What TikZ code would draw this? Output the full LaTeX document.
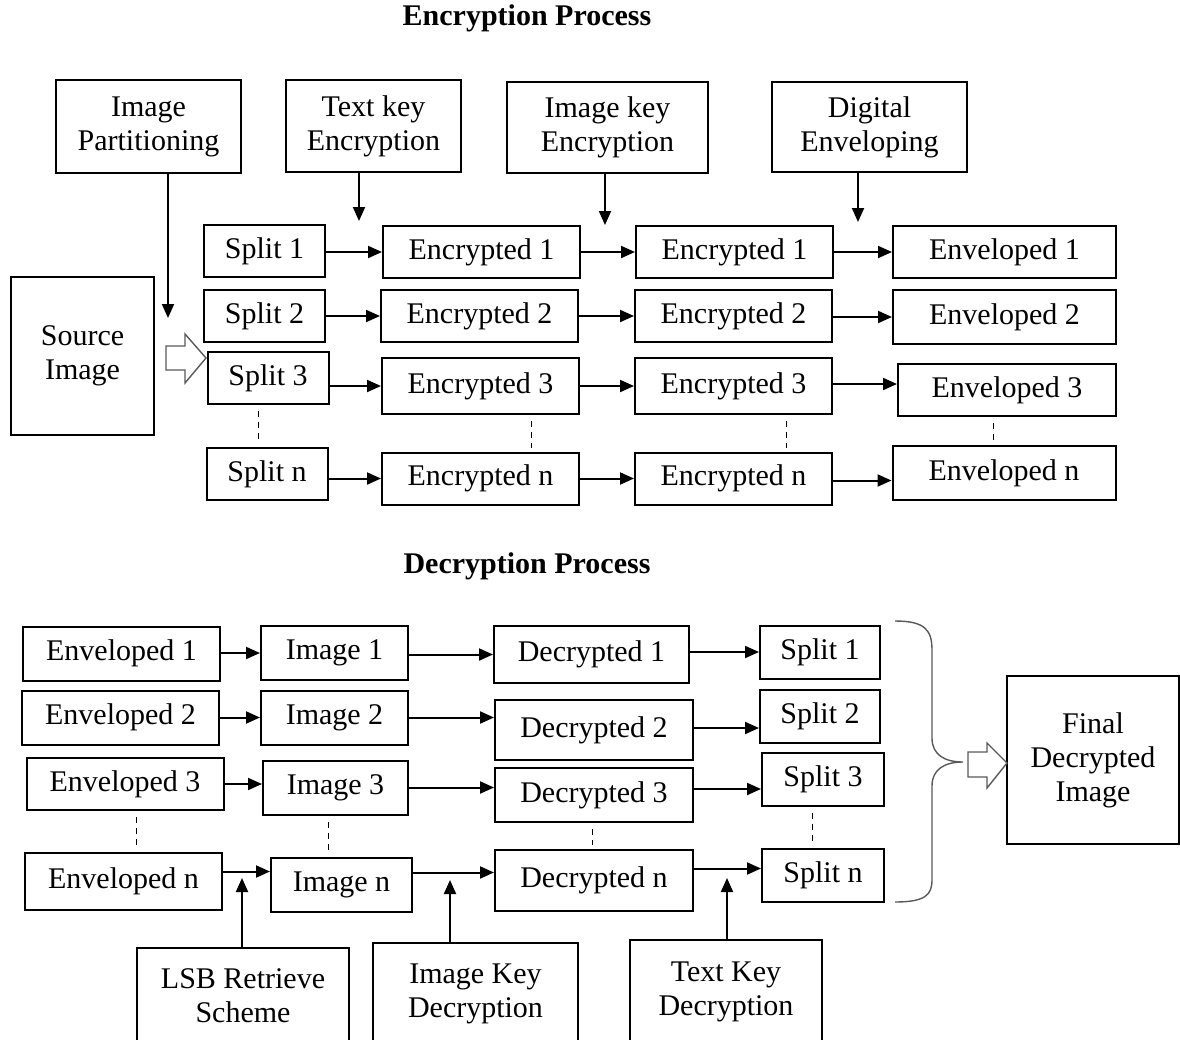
\documentclass[tikz,border=0pt]{standalone}
\usepackage{fontspec}
\setmainfont{Liberation Serif}
\usetikzlibrary{arrows.meta}

\begin{document}
\begin{tikzpicture}[x=0.5pt,y=-0.5pt,
  box/.style={draw,line width=1pt,inner sep=0pt,align=center,font=\fontsize{15}{17}\selectfont},
  split/.style={box,minimum width=60.5pt,minimum height=26pt},
  enc/.style={box,minimum width=98.5pt,minimum height=26pt},
  envd/.style={box,minimum width=111.5pt,minimum height=26pt},
  denv/.style={box,minimum width=98.5pt,minimum height=27pt},
  dimg/.style={box,minimum width=73.5pt,minimum height=27pt},
  ddec/.style={box,minimum width=97.5pt,minimum height=28.5pt},
  dsplit/.style={box,minimum width=60pt,minimum height=26.5pt},
  arr/.style={line width=1pt,-{Triangle[length=7pt,width=6pt]}},
  gap/.style={line width=0.5pt,dash pattern=on 3pt off 2.5pt,shorten <=3pt,shorten >=2pt},
  hollow/.style={draw=black!65,line width=0.7pt,fill=white},
  title/.style={font=\fontsize{15}{17}\selectfont\bfseries}]
  \clip (0,0) rectangle (1180,1040);

  % encryption
  \node[title] (enctitle) at (527,18) {Encryption Process};
  \node[box,minimum width=92.5pt,minimum height=46.5pt] (part) at (148.5,126.5) {Image\\Partitioning};
  \node[box,minimum width=87.5pt,minimum height=46pt] (tkey) at (373.5,126) {Text key\\Encryption};
  \node[box,minimum width=100.5pt,minimum height=45.5pt] (ikey) at (607.5,127.5) {Image key\\Encryption};
  \node[box,minimum width=97.5pt,minimum height=45pt] (denv) at (869.5,127) {Digital\\Enveloping};
  \node[box,minimum width=71.5pt,minimum height=79pt] (src) at (82.5,356) {Source\\Image};

  \node[split] (s1) at (264.5,251) {Split 1};
  \node[split] (s2) at (264.5,316) {Split 2};
  \node[split] (s3) at (268,378) {Split 3};
  \node[split] (sn) at (267,474) {Split n};
  \node[enc] (ea1) at (481.5,252) {Encrypted 1};
  \node[enc] (ea2) at (479.5,316) {Encrypted 2};
  \node[enc,minimum height=28pt] (ea3) at (480.5,386) {Encrypted 3};
  \node[enc] (ean) at (480.5,478.5) {Encrypted n};
  \node[enc] (eb1) at (734.5,252) {Encrypted 1};
  \node[enc] (eb2) at (733.5,316) {Encrypted 2};
  \node[enc,minimum height=28pt] (eb3) at (733.5,386) {Encrypted 3};
  \node[enc] (ebn) at (733.5,478.5) {Encrypted n};
  \node[envd] (v1) at (1004.5,252) {Enveloped 1};
  \node[envd,minimum height=27pt] (v2) at (1004.5,317) {Enveloped 2};
  \node[envd,minimum width=109pt] (v3) at (1007,390) {Enveloped 3};
  \node[envd,minimum height=27pt] (vn) at (1004,473) {Enveloped n};

  \coordinate (partin) at (168,318);
  \coordinate (tkeyin) at (359,221);
  \coordinate (ikeyin) at (605,225);
  \coordinate (denvin) at (858,222);
  \draw[arr] (part.south -| partin) -- (partin);
  \draw[arr] (tkey.south -| tkeyin) -- (tkeyin);
  \draw[arr] (ikey.south -| ikeyin) -- (ikeyin);
  \draw[arr] (denv.south -| denvin) -- (denvin);

  \draw[hollow] (166,346) -- (185,346) -- (185,334) -- (206,358) -- (185,383)
    -- (185,370) -- (166,370) -- cycle;

  \draw[arr] (s1.east |- ea1.west) -- (ea1.west);
  \draw[arr] (ea1.east |- eb1.west) -- (eb1.west);
  \draw[arr] (eb1.east |- v1.west) -- (v1.west);
  \draw[arr] (s2.east |- ea2.west) -- (ea2.west);
  \draw[arr] (ea2.east |- eb2.west) -- (eb2.west);
  \draw[arr] (eb2.east |- v2.west) -- (v2.west);
  \draw[arr] (s3.east |- ea3.west) -- (ea3.west);
  \draw[arr] (ea3.east |- eb3.west) -- (eb3.west);
  \draw[arr] ([yshift=1pt]eb3.east) -- ([yshift=1pt]eb3.east -| v3.west);
  \draw[arr] (sn.east |- ean.west) -- (ean.west);
  \draw[arr] (ean.east |- ebn.west) -- (ebn.west);
  \draw[arr] ([yshift=-1pt]ebn.east) -- ([yshift=-1pt]ebn.east -| vn.west);

  \draw[gap] (s3.south -| 258,0) -- (sn.north -| 258,0);
  \draw[gap] (ea3.south -| 531,0) -- (ean.north -| 531,0);
  \draw[gap] (eb3.south -| 786,0) -- (ebn.north -| 786,0);
  \draw[gap] (v3.south -| 993,0) -- (vn.north -| 993,0);

  % decryption
  \node[title] (dectitle) at (527,566) {Decryption Process};
  \node[denv] (d1) at (121.5,653.5) {Enveloped 1};
  \node[denv] (d2) at (120.5,717.5) {Enveloped 2};
  \node[denv,minimum height=26pt] (d3) at (125,784) {Enveloped 3};
  \node[denv,minimum height=28.5pt] (dn) at (123.5,881.5) {Enveloped n};
  \node[dimg] (i1) at (334.5,653) {Image 1};
  \node[dimg] (i2) at (334.5,717.5) {Image 2};
  \node[dimg,minimum width=72.5pt] (i3) at (335.5,787.5) {Image 3};
  \node[dimg,minimum width=70.5pt] (in) at (341.5,884.5) {Image n};
  \node[ddec] (c1) at (591.5,654.5) {Decrypted 1};
  \node[ddec,minimum width=99pt,minimum height=30pt] (c2) at (594,730) {Decrypted 2};
  \node[ddec,minimum width=99pt,minimum height=27pt] (c3) at (594,795) {Decrypted 3};
  \node[ddec,minimum width=99pt,minimum height=30.5pt] (cn) at (594,880.5) {Decrypted n};
  \node[dsplit] (p1) at (820,652) {Split 1};
  \node[dsplit] (p2) at (820,716) {Split 2};
  \node[dsplit,minimum width=61pt] (p3) at (823,779) {Split 3};
  \node[dsplit,minimum width=61pt] (pn) at (823,875) {Split n};
  \node[box,minimum width=86pt,minimum height=84pt] (final) at (1093,760) {Final\\Decrypted\\Image};

  \node[box,minimum width=106pt,minimum height=48pt] (lsb) at (243,996) {LSB Retrieve\\Scheme};
  \node[box,minimum width=102.5pt,minimum height=50.5pt] (ikd) at (475.5,993.5) {Image Key\\Decryption};
  \node[box,minimum width=96pt,minimum height=52pt] (tkd) at (726,992) {Text Key\\Decryption};

  \draw[arr] (d1.east |- i1.west) -- (i1.west);
  \draw[arr] (i1.east |- c1.west) -- (c1.west);
  \draw[arr] (c1.east |- p1.west) -- (p1.west);
  \draw[arr] (d2.east |- i2.west) -- (i2.west);
  \draw[arr] (i2.east) -- (i2.east -| c2.west);
  \draw[arr] ([yshift=1pt]c2.east) -- ([yshift=1pt]c2.east -| p2.west);
  \draw[arr] (d3.east) -- (d3.east -| i3.west);
  \draw[arr] (i3.east) -- (i3.east -| c3.west);
  \draw[arr] ([yshift=3pt]c3.east) -- ([yshift=3pt]c3.east -| p3.west);
  \draw[arr] ([yshift=5pt]dn.east) -- ([yshift=5pt]dn.east -| in.west);
  \draw[arr] ([yshift=6pt]in.east) -- ([yshift=6pt]in.east -| cn.west);
  \draw[arr] ([yshift=6pt]cn.east) -- ([yshift=6pt]cn.east -| pn.west);

  \draw[gap] (d3.south -| 136,0) -- (dn.north -| 136,0);
  \draw[gap] (i3.south -| 328,0) -- (in.north -| 328,0);
  \draw[gap] (c3.south -| 592,0) -- (cn.north -| 592,0);
  \draw[gap] (p3.south -| 812,0) -- (pn.north -| 812,0);

  \coordinate (lsbout) at (242,878);
  \coordinate (ikdout) at (450,880);
  \coordinate (tkdout) at (727,878);
  \draw[arr] (lsb.north -| lsbout) -- (lsbout);
  \draw[arr] (ikd.north -| ikdout) -- (ikdout);
  \draw[arr] (tkd.north -| tkdout) -- (tkdout);

  \draw[draw=black!65,line width=0.7pt] (895,621) .. controls (925,621) and (932,630) .. (932,650)
    -- (932,738) .. controls (932,755) and (945,762) .. (963,762)
    .. controls (945,762) and (932,769) .. (932,786) -- (932,880)
    .. controls (932,895) and (925,902) .. (895,902);
  \draw[hollow] (968,752) -- (987,752) -- (987,743) -- (1007,763) -- (987,788)
    -- (987,777) -- (968,777) -- cycle;
\end{tikzpicture}
\end{document}
